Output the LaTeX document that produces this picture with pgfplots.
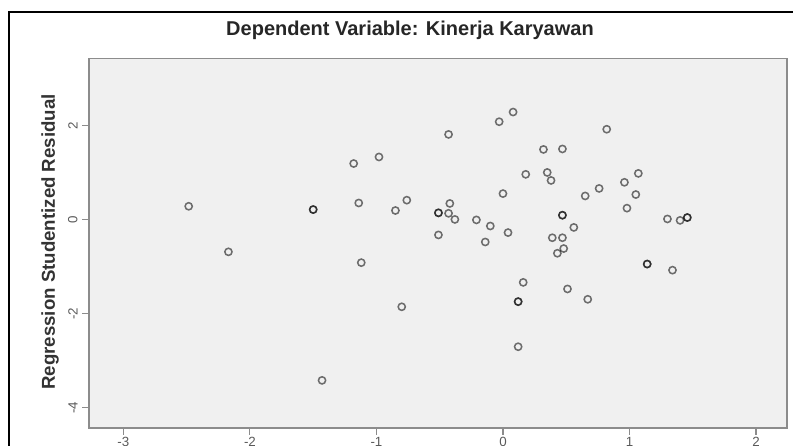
\documentclass[border=0pt]{standalone}
\usepackage{fontspec}
\setmainfont{Liberation Sans}
\usepackage{pgfplots}
\pgfplotsset{compat=1.18}
\definecolor{plotbg}{HTML}{F0F0F0}
\definecolor{axgray}{HTML}{8C8C8C}
\definecolor{ticklab}{HTML}{5A5A5A}
\begin{document}
\begin{tikzpicture}
\path[use as bounding box] (0,0) rectangle (594.75pt,334.5pt);
\draw[black, line width=1.1pt] (6.75pt,-10pt) -- (6.75pt,325.5pt) -- (620pt,325.5pt);
\begin{axis}[
  at={(66.75pt,13.5pt)}, anchor=south west,
  scale only axis, width=523.5pt, height=277.2pt,
  xmin=-3.272, xmax=2.245, ymin=-4.43, ymax=3.438,
  axis background/.style={fill=plotbg},
  axis line style={axgray, line width=0.9pt},
  xtick={-3,-2,-1,0,1,2}, ytick={-4,-2,0,2},
  tick align=outside, tick pos=left, major tick length=5pt,
  tick style={axgray, line width=0.8pt},
  tick label style={font=\fontsize{10}{12}\selectfont, text=ticklab},
  xticklabel style={inner sep=1.5pt},
  yticklabel style={rotate=90, anchor=south},
  /pgf/number format/assume math mode=true,
  clip=false,
]
\addplot[only marks, mark=o, mark size=2.7pt,
  mark options={draw=black, draw opacity=0.55, line width=1.15pt}] coordinates {
(-2.484,0.29) (-2.17,-0.68) (-1.50,0.22) (-1.50,0.22) (-1.43,-3.416)
(-1.18,1.20) (-0.98,1.34) (-1.14,0.36) (-1.12,-0.91) (-0.85,0.20)
(-0.76,0.42) (-0.80,-1.85) (-0.43,1.82) (-0.51,0.15) (-0.51,0.15)
(-0.42,0.35) (-0.43,0.14) (-0.38,0.01) (-0.51,-0.32) (-0.21,0.00)
(-0.10,-0.13) (-0.14,-0.47) (0.04,-0.27) (0.00,0.56) (-0.03,2.09)
(0.08,2.296) (0.18,0.97) (0.32,1.50) (0.47,1.51) (0.35,1.01)
(0.38,0.84) (0.47,0.10) (0.47,0.10) (0.56,-0.16) (0.39,-0.38)
(0.47,-0.38) (0.48,-0.61) (0.43,-0.71) (0.16,-1.33) (0.12,-1.74)
(0.12,-1.74) (0.12,-2.70) (0.51,-1.47) (0.67,-1.69) (0.65,0.51)
(0.76,0.67) (0.82,1.93) (0.96,0.80) (1.07,0.99) (1.05,0.54)
(0.98,0.25) (1.30,0.02) (1.40,-0.01) (1.457,0.05) (1.457,0.05)
(1.14,-0.94) (1.14,-0.94) (1.34,-1.07)
};
\end{axis}
\node[font=\bfseries\fontsize{15}{18}\selectfont, text=black!85] at (307.5pt,312pt) {Dependent Variable: Kinerja Karyawan};
\node[rotate=90, font=\bfseries\fontsize{14}{17}\selectfont, text=black!80] at (37.5pt,153pt) {Regression Studentized Residual};
\end{tikzpicture}
\end{document}
